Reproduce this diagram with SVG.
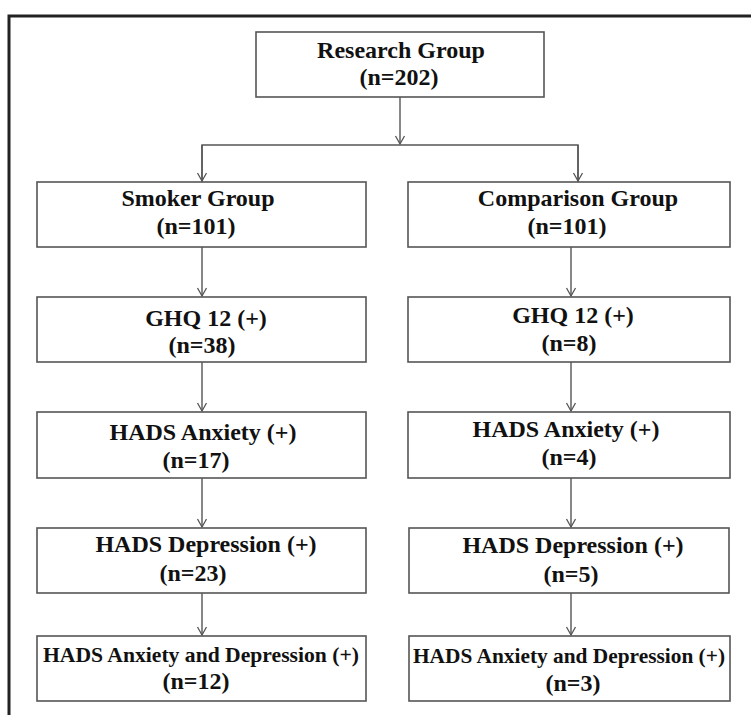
<svg xmlns="http://www.w3.org/2000/svg" width="751" height="715" viewBox="0 0 751 715">
<defs>
<style>
.box{fill:#fff;stroke:#555;stroke-width:1.6}
.t{font-family:"Liberation Serif","Times New Roman",serif;font-weight:bold;font-size:24px;fill:#111;text-anchor:middle}
.s{font-size:21px}
.c{fill:none;stroke:#555;stroke-width:1.4}
.frame{fill:none;stroke:#222;stroke-width:3}
</style>
<marker id="ah" markerUnits="userSpaceOnUse" markerWidth="14" markerHeight="14" refX="0" refY="0" viewBox="-10 -7 12 14" orient="auto" overflow="visible">
<path d="M-8,-4.5 L0,0 L-8,4.5" fill="none" stroke="#555" stroke-width="1.3"/>
</marker>
</defs>
<rect width="751" height="715" fill="#fff"/>
<path class="frame" d="M9,715 V16 H751"/>
<g id="connectors">
<path class="c" d="M400,97 V144" marker-end="url(#ah)"/>
<path class="c" d="M202,182 V145 H578 V182"/>
<path class="c" d="M202,145 V181" marker-end="url(#ah)"/>
<path class="c" d="M578,145 V181" marker-end="url(#ah)"/>
<path class="c" d="M202,247 V296" marker-end="url(#ah)"/>
<path class="c" d="M202,362 V411" marker-end="url(#ah)"/>
<path class="c" d="M202,478 V527" marker-end="url(#ah)"/>
<path class="c" d="M202,593 V635" marker-end="url(#ah)"/>
<path class="c" d="M571,247 V296" marker-end="url(#ah)"/>
<path class="c" d="M571,362 V411" marker-end="url(#ah)"/>
<path class="c" d="M571,478 V527" marker-end="url(#ah)"/>
<path class="c" d="M571,593 V635" marker-end="url(#ah)"/>
</g>
<g id="research">
<rect class="box" x="256" y="32" width="288" height="65"/>
<text class="t" x="401" y="58">Research Group</text>
<text class="t" x="399" y="85">(n=202)</text>
</g>
<g id="smoker">
<rect class="box" x="37" y="182" width="329" height="65"/>
<text class="t" x="198" y="206">Smoker Group</text>
<text class="t" x="196" y="234">(n=101)</text>
</g>
<g id="comparison">
<rect class="box" x="408" y="182" width="322" height="65"/>
<text class="t" x="578" y="206">Comparison Group</text>
<text class="t" x="567" y="234">(n=101)</text>
</g>
<g id="ghq-smoker">
<rect class="box" x="37" y="297" width="329" height="65"/>
<text class="t" x="206" y="326">GHQ 12 (+)</text>
<text class="t" x="202" y="353">(n=38)</text>
</g>
<g id="ghq-comparison">
<rect class="box" x="408" y="297" width="322" height="65"/>
<text class="t" x="573" y="323">GHQ 12 (+)</text>
<text class="t" x="569" y="351">(n=8)</text>
</g>
<g id="anx-smoker">
<rect class="box" x="37" y="412" width="329" height="66"/>
<text class="t" x="203" y="440">HADS Anxiety (+)</text>
<text class="t" x="196" y="468">(n=17)</text>
</g>
<g id="anx-comparison">
<rect class="box" x="408" y="412" width="322" height="66"/>
<text class="t" x="566" y="437">HADS Anxiety (+)</text>
<text class="t" x="569" y="465">(n=4)</text>
</g>
<g id="dep-smoker">
<rect class="box" x="37" y="528" width="329" height="65"/>
<text class="t" x="206" y="552">HADS Depression (+)</text>
<text class="t" x="193" y="581">(n=23)</text>
</g>
<g id="dep-comparison">
<rect class="box" x="409" y="528" width="320" height="65"/>
<text class="t" x="573" y="553">HADS Depression (+)</text>
<text class="t" x="571" y="582">(n=5)</text>
</g>
<g id="both-smoker">
<rect class="box" x="37" y="636" width="329" height="65"/>
<text class="t s" x="201" y="662" textLength="316" lengthAdjust="spacingAndGlyphs">HADS Anxiety and Depression (+)</text>
<text class="t" x="196" y="689">(n=12)</text>
</g>
<g id="both-comparison">
<rect class="box" x="409" y="636" width="321" height="65"/>
<text class="t s" x="569" y="663" textLength="312" lengthAdjust="spacingAndGlyphs">HADS Anxiety and Depression (+)</text>
<text class="t" x="573" y="691">(n=3)</text>
</g>
</svg>
